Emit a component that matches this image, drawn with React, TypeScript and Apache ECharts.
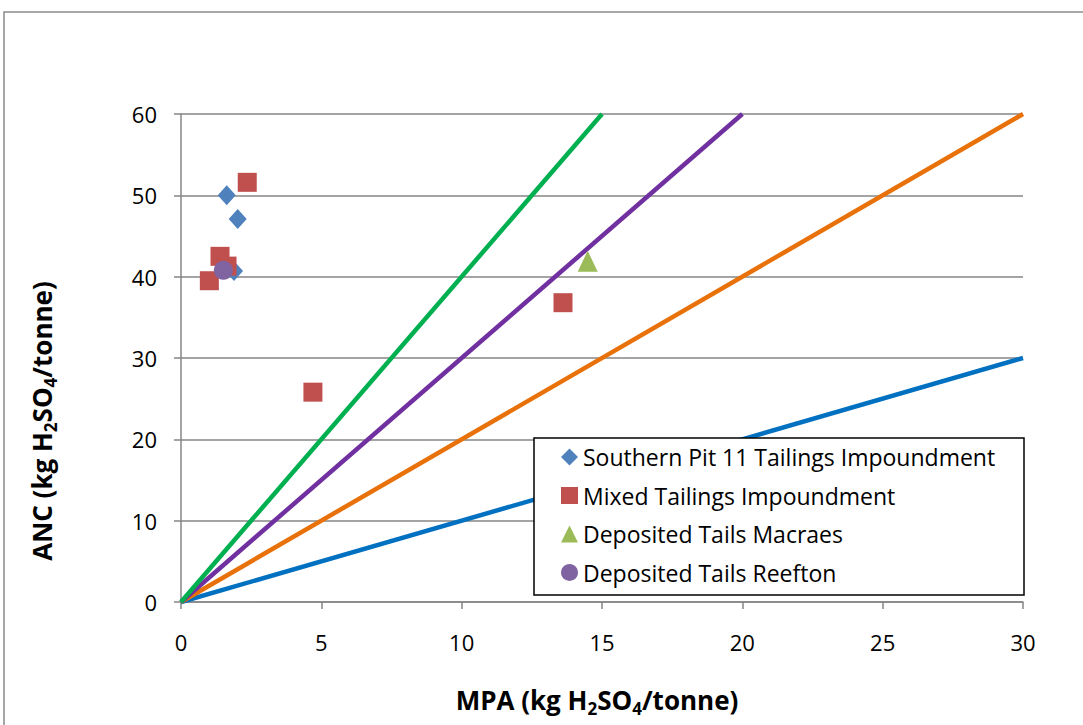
import React, { useEffect, useRef } from "react";
import * as echarts from "echarts";

// Ratio lines: ANC = k * MPA, drawn from origin to end point
const ratioLineNames = ["NPR 1", "NPR 2", "NPR 3", "NPR 4"];
const ratioLineEnds: number[][] = [
  [30, 30],
  [30, 60],
  [20, 60],
  [15, 60],
];
const ratioLineColors = ["#0070C0", "#E8710A", "#7030A0", "#00B050"];

const seriesNames = [
  "Southern Pit 11 Tailings Impoundment",
  "Mixed Tailings Impoundment",
  "Deposited Tails Macraes",
  "Deposited Tails Reefton",
];
const southernPit: number[][] = [
  [1.63, 50.0],
  [2.02, 47.1],
  [1.89, 40.7],
];
const mixedTailings: number[][] = [
  [2.36, 51.6],
  [1.39, 42.5],
  [1.64, 41.3],
  [1.01, 39.5],
  [4.7, 25.8],
  [13.61, 36.8],
];
const macraes: number[][] = [[14.49, 41.9]];
const reefton: number[][] = [[1.51, 40.8]];

const xTicks = { min: 0, max: 30, interval: 5 };
const yTicks = { min: 0, max: 60, interval: 10 };

const FONT = "Open Sans";

export default function App() {
  const ref = useRef<HTMLDivElement>(null);
  useEffect(() => {
    document.body.style.margin = "0";
    if (!ref.current) return;
    const chart = echarts.init(ref.current, null, { renderer: "svg" });
    const axisGray = "#868686";
    const titleRich = {
      b: { fontFamily: FONT, fontWeight: "bold", fontSize: 26, lineHeight: 33, color: "#000" },
      s: {
        fontFamily: FONT,
        fontWeight: "bold",
        fontSize: 17,
        lineHeight: 17,
        verticalAlign: "bottom",
        color: "#000",
      },
    };
    const lineSeries = ratioLineEnds.map((end, i) => ({
      name: ratioLineNames[i],
      type: "line",
      data: [[0, 0], end],
      symbol: "none",
      lineStyle: { width: 4.5, color: ratioLineColors[i] },
      itemStyle: { color: ratioLineColors[i] },
      z: 2,
      silent: true,
    }));
    const scatterDefs = [
      { data: southernPit, symbol: "diamond", size: [18, 20], color: "#4F81BD" },
      { data: mixedTailings, symbol: "rect", size: 19, color: "#C0504D" },
      { data: macraes, symbol: "triangle", size: [20, 21], color: "#9BBB59" },
      { data: reefton, symbol: "circle", size: 19, color: "#8064A2" },
    ];
    const scatterSeries = scatterDefs.map((d, i) => ({
      name: seriesNames[i],
      type: "scatter",
      data: d.data,
      symbol: d.symbol,
      symbolSize: d.size,
      itemStyle: { color: d.color, opacity: 1 },
      z: 3,
    }));
    chart.setOption({
      animation: false,
      backgroundColor: "#fff",
      grid: { left: 181, right: 60, top: 114, bottom: 123, containLabel: false },
      xAxis: {
        type: "value",
        min: xTicks.min,
        max: xTicks.max,
        interval: xTicks.interval,
        axisLine: { show: true, lineStyle: { color: axisGray, width: 1.5 } },
        axisTick: { show: true, length: 7, lineStyle: { color: axisGray, width: 1.5 } },
        axisLabel: { fontFamily: FONT, fontSize: 22, color: "#000", margin: 29 },
        splitLine: { show: false },
      },
      yAxis: {
        type: "value",
        min: yTicks.min,
        max: yTicks.max,
        interval: yTicks.interval,
        axisLine: { show: true, lineStyle: { color: axisGray, width: 1.5 } },
        axisTick: { show: true, length: 7, lineStyle: { color: axisGray, width: 1.5 } },
        axisLabel: { fontFamily: FONT, fontSize: 22, color: "#000", margin: 24 },
        splitLine: { show: true, lineStyle: { color: axisGray, width: 1.5 } },
      },
      legend: {
        data: seriesNames,
        orient: "vertical",
        left: 556,
        top: 440,
        itemWidth: 17,
        itemHeight: 17,
        itemGap: 14.5,
        textStyle: { fontFamily: FONT, fontSize: 23, color: "#000", lineHeight: 24 },
        z: 11,
        selectedMode: false,
      },
      graphic: [
        {
          type: "rect",
          shape: { x: 4, y: 12, width: 1200, height: 900 },
          style: { fill: "none", stroke: "#8a8a8a", lineWidth: 1.5 },
          z: 0,
          silent: true,
        },
        {
          type: "rect",
          shape: { x: 534, y: 438, width: 490, height: 157 },
          style: { fill: "#fff", stroke: "#000", lineWidth: 1.5 },
          z: 10,
          silent: true,
        },
        {
          type: "text",
          x: 597,
          y: 700,
          z: 10,
          style: {
            text: "{b|MPA (kg H}{s|2}{b|SO}{s|4}{b|/tonne)}",
            rich: titleRich,
            align: "center",
            verticalAlign: "middle",
          },
        },
        {
          type: "text",
          x: 42,
          y: 421,
          rotation: Math.PI / 2,
          z: 10,
          style: {
            text: "{b|ANC (kg H}{s|2}{b|SO}{s|4}{b|/tonne)}",
            rich: titleRich,
            align: "center",
            verticalAlign: "middle",
          },
        },
      ],
      series: [...lineSeries, ...scatterSeries],
    });
    return () => chart.dispose();
  }, []);
  return <div ref={ref} style={{ width: 1083, height: 725 }} />;
}
